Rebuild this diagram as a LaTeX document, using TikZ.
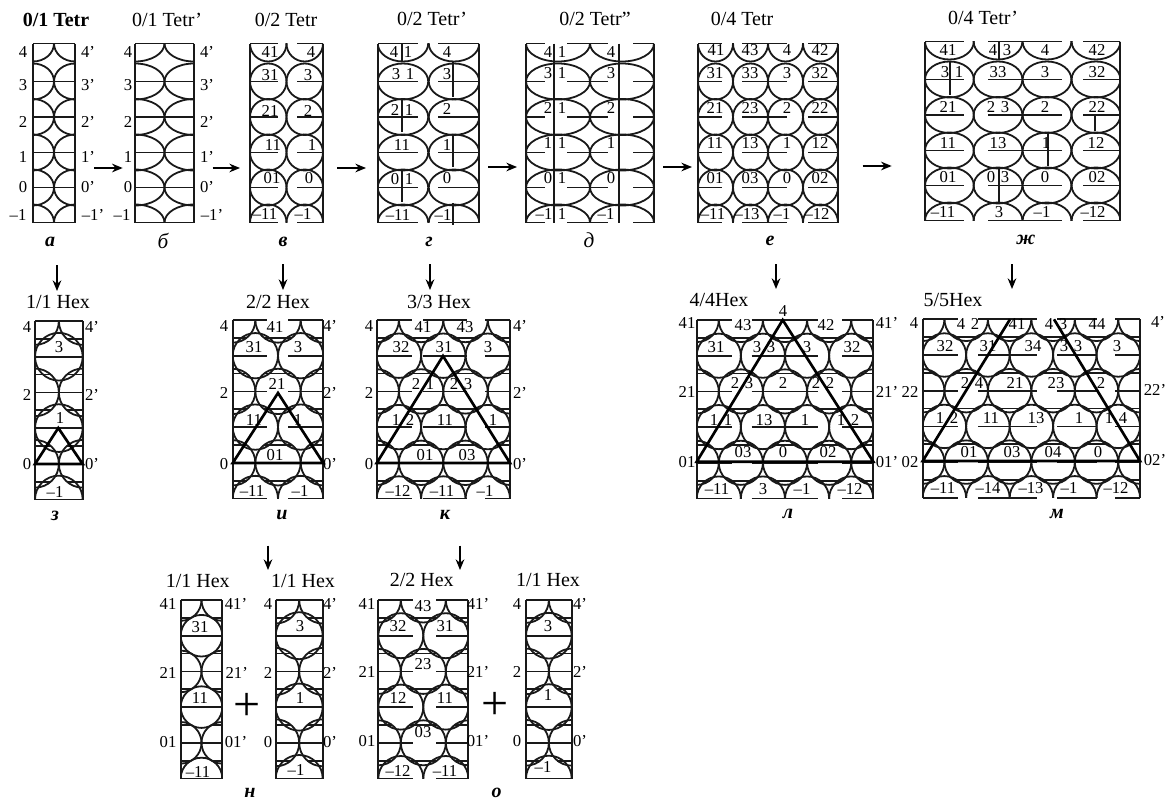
\documentclass[tikz,border=0pt]{standalone}
\usepackage{fontspec}
\setmainfont{Liberation Serif}
\usepackage{tikz}
\usetikzlibrary{arrows.meta, positioning}

\tikzset{
  cell/.style={line width=1.35pt, black!90},
  heavy/.style={line width=2pt, black, line join=miter},
  flow/.style={line width=1.1pt, -{Stealth[length=8pt,width=6.5pt]}},
  numlab/.style={font=\fontsize{12.5}{14}\selectfont, inner sep=0pt},
  headlab/.style={font=\fontsize{15}{17}\selectfont, inner sep=0pt},
  marklab/.style={font=\fontsize{15}{17}\selectfont\bfseries\itshape, inner sep=0pt},
  thinmark/.style={font=\fontsize{16}{18}\selectfont\itshape, inner sep=0pt},
  plusmark/.style={font=\fontsize{36}{36}\selectfont, inner sep=0pt}
}

% left, right, ellipse centres, x radius, line pieces
\newcommand{\tetrpanel}[5]{
  \begin{scope}
    \clip (#1,43.5) rectangle (#2,222.5);
    \foreach \cy in {43.5,81.5,117,152.5,187.5,222.5}
      \foreach \cx in {#3}
        \draw[cell] (\cx,\cy) ellipse ({#4} and 18);
  \end{scope}
  \draw[cell] (#1,43.5) -- (#1,222.5) (#2,43.5) -- (#2,222.5);
  \foreach \cy in {43.5,81.5,117,152.5,187.5,222.5}
    \foreach \xa/\xb in {#5}
      \draw[cell] (\xa,\cy) -- (\xb,\cy);
}

% top, left, right, centres of even rows, centres of odd rows, radius, line pieces
\newcommand{\hexpanel}[7]{
  \begin{scope}[shift={(0,#1)}]
    \begin{scope}
      \clip (#2,0) rectangle (#3,178.5);
      \pgfmathsetmacro\halfc{sqrt(#6*#6-17.85*17.85)}
      \foreach \cy in {0,71.4,142.8}
        \foreach \cx in {#4} {
          \draw[cell] (\cx,\cy) circle (#6);
          \draw[cell] ({\cx-\halfc},{\cy-17.85}) -- ({\cx+\halfc},{\cy-17.85});
          \draw[cell] ({\cx-\halfc},{\cy+17.85}) -- ({\cx+\halfc},{\cy+17.85});
        }
      \foreach \cy in {35.7,107.1,178.5}
        \foreach \cx in {#5}
          \draw[cell] (\cx,\cy) circle (#6);
    \end{scope}
    \draw[cell] (#2,0) -- (#2,178.5) (#3,0) -- (#3,178.5);
    \foreach \cy in {0,35.7,71.4,107.1,142.8,178.5}
      \foreach \xa/\xb in {#7}
        \draw[cell] (\xa,\cy) -- (\xb,\cy);
  \end{scope}
}

\newcommand{\numlabels}[2]{
  \foreach \lx/\ly/\ltxt [count=\n] in {#2}
    \node[numlab] (#1-\n) at (\lx,\ly) {\ltxt};
}

\begin{document}
\begin{tikzpicture}[x=0.75pt, y=-0.75pt]
    \useasboundingbox (0,0) rectangle (1174,803);

    % tetragonal row
    \tetrpanel{33}{75}{33,75}{21}{33/75}
    \numlabels{pa}{23/52/4, 88/52/4', 23/85/3, 88/85/3', 23/122/2, 88/122/2', 23/157/1, 88/157/1',
      23/187/0, 88/187/0', 18/215/--1, 93/215/--1'}
    \node[headlab, font=\fontsize{15}{17}\selectfont\bfseries] (pa-head) at (56,20) {0/1 Tetr};
    \node[marklab] (pa-mark) at (50,242) {а};

    \tetrpanel{135}{194}{135,194}{29.5}{135/194}
    \numlabels{pb}{128/52/4, 207/52/4', 128/85/3, 207/85/3', 128/122/2, 207/122/2', 128/157/1, 207/157/1',
      128/187/0, 207/187/0', 122/215/--1, 212/215/--1'}
    \node[headlab] (pb-head) at (167,20) {0/1 Tetr'};
    \node[thinmark] (pb-mark) at (163,241) {б};

    \tetrpanel{250}{323}{268.25,304.75}{18.25}{250/278,297/323}
    \numlabels{pv}{270/52/41, 311/52/4, 270/75/31, 308/75/3, 270/111/21, 308/111/2, 273/145/11, 312/145/1,
      272/178/01, 309/178/0, 265/214/--11, 303/214/--1}
    \node[headlab] (pv-head) at (286,20) {0/2 Tetr};
    \node[marklab] (pv-mark) at (283,242) {в};

    \tetrpanel{378}{479}{403,454}{25.25}{378/418,438/479}
    \draw[cell] (402,44) -- (402,62) (402,99) -- (402,132) (402,170) -- (402,202);
    \draw[cell] (453,62) -- (453,97) (453,135) -- (453,167) (453,203) -- (453,225);
    \numlabels{pg}{401/52/4\,\,1, 447/52/4, 403/74/3\,\,1, 447/74/3, 402/110/2\,\,1, 447/109/2, 402/145/11, 447/145/1,
      402/179/0\,\,1, 447/178/0, 398/215/--11, 443/215/--1}
    \node[headlab] (pg-head) at (432,19) {0/2 Tetr'};
    \node[marklab] (pg-mark) at (429,242) {г};

    \tetrpanel{526}{654}{558,622}{32}{526/545,567/608,633/654}
    \draw[cell] (554,43.5) -- (554,222.5) (619,43.5) -- (619,222.5);
    \numlabels{pd}{555/52/4\,\,1, 611/52/4, 555/73/3\,\,1, 611/73/3, 555/108/2\,\,1, 611/108/2, 555/143/1\,\,1, 611/143/1,
      555/178/0\,\,1, 611/178/0, 551/214/--1\,\,1, 606/214/--1}
    \node[headlab] (pd-head) at (595,19) {0/2 Tetr''};
    \node[thinmark] (pd-mark) at (589,240) {д};

    \tetrpanel{698}{838}{715.5,750.5,785.5,820.5}{17.5}{698/722,742/787,808/838}
    \numlabels{pe}{716/50/41, 750/50/43, 787/50/4, 820/50/42, 715/73/31, 750/73/33, 787/73/3, 820/73/32,
      715/108/21, 750/108/23, 787/108/2, 820/108/22, 715/143/11, 750/143/13, 787/143/1, 820/143/12,
      715/178/01, 750/178/03, 787/178/0, 820/178/02, 713/214/--11, 747/214/--13, 782/214/--1, 817/214/--12}
    \node[headlab] (pe-head) at (742,19) {0/4 Tetr};
    \node[marklab] (pe-mark) at (770,241) {е};

    \begin{scope}[shift={(0,-2)}]
      \tetrpanel{925}{1120}{949.4,998,1047,1096}{24.4}{925/964,988/1062,1083/1120}
    \end{scope}
    \draw[cell] (950,62) -- (950,95) (999,41) -- (999,60) (999,168) -- (999,202);
    \draw[cell] (1048,132) -- (1048,166) (1095,115) -- (1095,131);
    \numlabels{pzh}{948/50/41, 1000/50/4\,\,3, 1045/50/4, 1097/50/42, 952/72/3\,\,1, 998/72/33, 1045/72/3, 1097/72/32,
      948/107/21, 998/107/2\,\,3, 1045/107/2, 1097/107/22, 948/143/11, 998/143/13, 1046/143/1, 1096/143/12,
      948/177/01, 998/177/0\,\,3, 1045/177/0, 1097/177/02, 943/212/--11, 999/212/3, 1042/212/--1, 1093/212/--12}
    \node[headlab] (pzh-head) at (983,18) {0/4 Tetr'};
    \node[marklab] (pzh-mark) at (1026,240) {ж};

    % hexagonal row
    \hexpanel{321}{35}{82.7}{35,82.7}{58.85}{23.85}{35/82.7}
    \draw[heavy] (35,464) -- (58.3,428) -- (82.7,464) -- cycle;
    \numlabels{pz}{59/347/3, 60/418/1, 55/492/--1, 27/327/4, 92/327/4', 27/395/2, 92/395/2', 27/464/0, 92/464/0'}
    \node[headlab] (pz-head) at (58,302) {1/1 Hex};
    \node[marklab] (pz-mark) at (55,516) {з};

    \hexpanel{320}{232.7}{323.3}{232.7,278,323.3}{255.35,300.65}{22.65}{232.7/267,288/323.3}
    \draw[heavy] (232.7,463) -- (278,393) -- (323.3,463) -- cycle;
    \numlabels{pi}{275/327/41, 254/347/31, 298/347/3, 277/384/21, 254/420/11, 298/420/1, 275/455/01, 252/491/--11, 300/491/--1,
      224/326/4, 330/326/4', 224/393/2, 330/393/2', 224/464/0, 330/464/0'}
    \node[headlab] (pi-head) at (278,302) {2/2 Hex};
    \node[marklab] (pi-mark) at (282,515) {и};

    \hexpanel{320}{376.7}{510}{376.7,421.1,465.5,510}{398.9,443.3,487.8}{22.2}{376.7/412,423/467,485/510}
    \draw[heavy] (376.7,463) -- (443,356) -- (510,463) -- cycle;
    \numlabels{pk}{423/327/41, 465/327/43, 401/347/32, 444/347/31, 488/347/3, 423/384/2\,\,1, 461/384/2\,\,3, 403/420/1\,\,2, 445/420/11, 493/420/1,
      425/455/01, 467/455/03, 398/491/--12, 442/491/--11, 485/491/--1,
      369/326/4, 520/326/4', 369/393/2, 520/393/2', 369/464/0, 520/464/0'}
    \node[headlab] (pk-head) at (439,302) {3/3 Hex};
    \node[marklab] (pk-mark) at (445,515) {к};

    \hexpanel{320}{696.7}{873.3}{696.7,740.85,785,829.15,873.3}{718.8,762.9,807.1,851.2}{22.07}{696.7/732,751.7/818,842/873.3}
    \draw[heavy] (696.7,461.7) -- (782.7,320) -- (873.3,461.7) -- cycle;
    \numlabels{pl}{783/310.7/4, 687/323/41, 887/323/41', 687/392/21, 887/392/21', 687/462/01, 887/462/01', 743/325/43, 826/325/42,
      716/347/31, 764/347/3\,\,3, 807/347/3, 852/347/32, 742/383/2\,\,3, 783/383/2, 823/383/2\,\,2,
      721/420/1\,\,1, 764/420/13, 805/420/1, 848/420/1\,\,2, 743/452/03, 783/452/0, 828/452/02,
      717/489/--11, 763/489/3, 802/489/--1, 850/489/--12}
    \node[headlab] (pl-head) at (719,300) {4/4Hex};
    \node[marklab] (pl-mark) at (788,514) {л};

    \hexpanel{319.3}{922.7}{1140}{922.7,966.2,1009.6,1053.1,1096.5,1140}{944.4,987.9,1031.4,1074.8,1118.3}{21.73}{922.7/958,978/1037,1057/1097,1115/1140}
    \draw[heavy] (1010,319.3) -- (922.7,461) -- (1140,461) -- (1054,319.3);
    \numlabels{pm}{914/323/4, 1158/322/4', 910/392/22, 1155/390/22', 910/462/02, 1155/460/02',
      968/324/4\,\,2, 1017/324/41, 1056/324/4\,\,3, 1097/324/44, 945/346/32, 988/346/31, 1033/346/34, 1071/346/3\,\,3, 1117/346/3,
      972/383/2\,\,4, 1015/383/21, 1056/383/23, 1101/383/2, 947/418/1\,\,2, 991/418/11, 1036/418/13, 1079/418/1, 1116/418/1\,\,4,
      969/452/01, 1012/452/03, 1053/452/04, 1098/452/0, 943/488/--11, 988/488/--14, 1031/488/--13, 1069/488/--1, 1116/488/--12}
    \node[headlab] (pm-head) at (953,300) {5/5Hex};
    \node[marklab] (pm-mark) at (1057,514) {м};

    % bottom row
    \hexpanel{600}{180.7}{222.3}{180.7,222.3}{201.5}{20.8}{180.7/222.3}
    \numlabels{pn}{200/626.7/31, 200/698/11, 198/771.7/--11, 168/604/41, 236/604/41', 168/672.7/21, 236.7/672.7/21', 168/741.7/01, 236/741.7/01'}
    \node[headlab] (pn-head) at (197.7,580.7) {1/1 Hex};
    \node[marklab] (pn-mark) at (250,793) {н};

    \hexpanel{600}{275.7}{322.7}{275.7,322.7}{299.2}{23.5}{275.7/322.7}
    \numlabels{pq}{300/626/3, 300/698/1, 296/770/--1, 268/604/4, 330/604/4', 268/672.7/2, 330/672.7/2', 268/741.7/0, 330/741.7/0'}
    \node[headlab] (pq-head) at (303,580.7) {1/1 Hex};
    \node[plusmark] (pq-plus) at (246.7,706.7) {+};

    \hexpanel{600}{378.3}{468.3}{378.3,423.3,468.3}{400.8,445.8}{22.5}{378.3/413,436/468.3}
    \numlabels{po}{423/606/43, 398/626/32, 445/626/31, 423/664/23, 398/698/12, 445/698/11, 423/732/03, 398/771/--12, 445/771/--11,
      367/604/41, 478/604/41', 367/672/21, 478/672/21', 367/741/01, 478/741/01'}
    \node[headlab] (po-head) at (421.7,580) {2/2 Hex};
    \node[marklab] (po-mark) at (496.7,793) {о};

    \hexpanel{600}{526}{571.7}{526,571.7}{548.85}{22.85}{526/571.7}
    \numlabels{pr}{548/626/3, 548/695/1, 543/767/--1, 517/604/4, 580/604/4', 517/672/2, 580/672/2', 517/741/0, 580/741/0'}
    \node[headlab] (pr-head) at (548,580) {1/1 Hex};
    \node[plusmark] (pr-plus) at (495,705.7) {+};

    % arrows
    \foreach \nm/\xa/\xb/\yy in {ab/94/122.7/168, bv/212.7/240/168, vg/337/366/168, gd/488/517/167, de/663/692/167, ezh/862.7/891.7/166} {
      \coordinate (\nm-from) at (\xa,\yy);
      \coordinate (\nm-to) at (\xb,\yy);
      \draw[flow] (\nm-from) -- (\nm-to);
    }
    \foreach \nm/\xx/\ya/\yb in {az/57/265/291, vi/283/264/290, gk/430/264/290, el/776/264/289, zhm/1012/264/289, in/268/545.7/570, ko/460/545.7/570} {
      \coordinate (\nm-from) at (\xx,\ya);
      \coordinate (\nm-to) at (\xx,\yb);
      \draw[flow] (\nm-from) -- (\nm-to);
    }
\end{tikzpicture}
\end{document}
